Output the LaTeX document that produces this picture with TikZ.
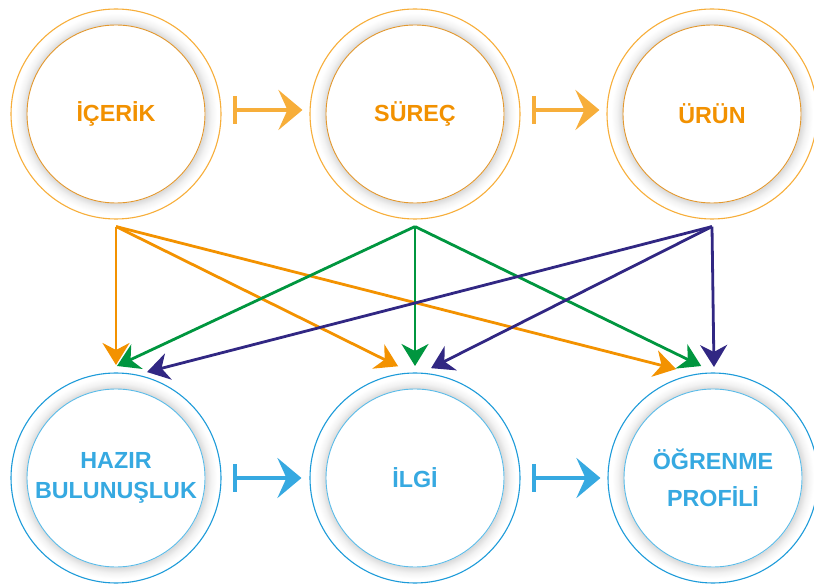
\documentclass[tikz,border=0pt]{standalone}
\usepackage{fontspec}
\setmainfont{Liberation Sans}
\usetikzlibrary{calc,arrows.meta}

\definecolor{ustturuncu}{HTML}{F7AE3A}
\definecolor{icturuncu}{HTML}{E3982E}
\definecolor{yazituruncu}{HTML}{F29100}
\definecolor{okturuncu}{HTML}{F39200}
\definecolor{okyesil}{HTML}{00963F}
\definecolor{okmor}{HTML}{312783}
\definecolor{mavi}{HTML}{1D9BD9}
\definecolor{acikmavi}{HTML}{5BBCE9}
\definecolor{yazimavi}{HTML}{36A9E1}

\pgfdeclareradialshading{golge}{\pgfpoint{0bp}{0bp}}{color(0bp)=(white); color(21bp)=(white); color(21.2bp)=(black!15); color(22.6bp)=(black!5); color(24bp)=(white); color(50bp)=(white)}

\tikzset{
  halka/.style n args={3}{circle, minimum size=210pt, inner sep=0pt, draw=#1, line width=1.1pt,
    text=#3, align=center, font=\fontsize{23.3}{30}\selectfont\bfseries,
    path picture={\shade[shading=golge] (path picture bounding box.center) circle (105pt);
      \draw[#2, fill=white, line width=0.9pt] (path picture bounding box.center) circle (89pt);}},
  ust/.style={halka={ustturuncu}{icturuncu}{yazituruncu}},
  alt/.style={halka={mavi}{acikmavi}{yazimavi}},
  bagla/.style={line width=4pt, {Bar[width=28pt]}-{Stealth[length=24pt,width=40pt,inset=9pt]}},
  capraz/.style={line width=2.8pt, -{Stealth[length=22pt,width=27pt,inset=7pt]}},
}

\begin{document}
\begin{tikzpicture}[x=1pt,y=1pt]
    \useasboundingbox (0,0) rectangle (814,584);
    % ust sira
    \node[ust] (icerik) at (116,470) {İÇERİK};
    \node[ust] (surec) at (415,470) {SÜREÇ};
    \node[ust] (urun) at (712,470) {ÜRÜN};
    % alt sira
    \node[alt] (hazir) at (116,106) {HAZIR\\BULUNUŞLUK};
    \node[alt] (ilgi) at (415,106) {İLGİ};
    \node[alt] (ogrenme) at (713,106) {ÖĞRENME\\[7pt]PROFİLİ};

    \draw[bagla,ustturuncu] ([shift={(11pt,4pt)}]icerik.east) -- ([shift={(-7pt,4pt)}]surec.west);
    \draw[bagla,ustturuncu] ([shift={(11pt,4pt)}]surec.east) -- ([shift={(-7pt,4pt)}]urun.west);
    \draw[bagla,yazimavi] ([xshift=11pt]hazir.east) -- ([xshift=-8pt]ilgi.west);
    \draw[bagla,yazimavi] ([xshift=11pt]ilgi.east) -- ([xshift=-7pt]ogrenme.west);

    \foreach \kaynak/\hedef/\aci/\uzak/\renk in {
        icerik/hazir/90/113/okturuncu, icerik/ilgi/98.6/113/okturuncu, icerik/ogrenme/108.7/115/okturuncu,
        surec/hazir/89.5/112/okyesil, surec/ilgi/90/112/okyesil, surec/ogrenme/96/112.6/okyesil,
        urun/hazir/73.7/110.4/okmor, urun/ilgi/81.7/111/okmor, urun/ogrenme/89.5/111/okmor}
        \draw[capraz,\renk] ([yshift=-7pt]\kaynak.south) -- ($(\hedef)+(\aci:\uzak)$);
\end{tikzpicture}
\end{document}
